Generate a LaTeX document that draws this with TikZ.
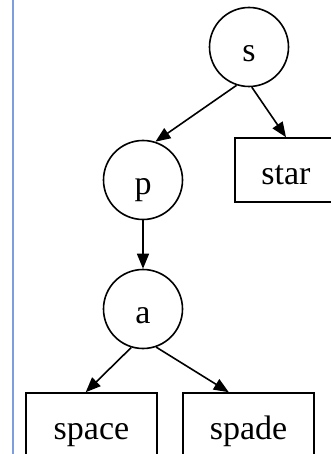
\documentclass[tikz,border=0pt]{standalone}
\usepackage{fontspec}
\setmainfont{Liberation Serif}
\usetikzlibrary{arrows.meta}

\definecolor{sidebar}{RGB}{125,158,220}

\begin{document}
\begin{tikzpicture}[x=1pt, y=-1pt, >={Triangle[length=15pt, width=12pt]},
    every node/.style={font=\fontsize{34}{40}\selectfont, line width=1.6pt,
                       text height=29pt, text depth=0pt},
    letter/.style={draw, circle, minimum size=79pt, inner sep=0pt},
    word/.style={draw, rectangle, minimum height=64pt, inner sep=0pt},
    link/.style={->, line width=1.6pt}]

    % 画布范围
    \clip (0,0) rectangle (331,454);

    % 左侧蓝线
    \draw[sidebar, line width=2pt] (13,0) -- (13,454);

    % 1. 字母结点 (圆)
    \node[letter] (s) at (249,47) {s};
    \node[letter] (p) at (143,180) {p};
    \node[letter] (a) at (143,309) {a};

    % 2. 单词结点 (方框)
    \node[word, minimum width=102pt] (star)  at (286,170)   {star};
    \node[word, minimum width=131pt] (space) at (91.5,425)  {space};
    \node[word, minimum width=131pt] (spade) at (248.5,425) {spade};

    % 3. 箭头
    \draw[link] (s.-108) -- (p.72);
    \draw[link] (s.-86) -- (star.north);
    \draw[link] (p) -- (a);
    \draw[link] (a.-107) -- (space.100);
    \draw[link] (a.-71) -- (spade.121);

\end{tikzpicture}
\end{document}
